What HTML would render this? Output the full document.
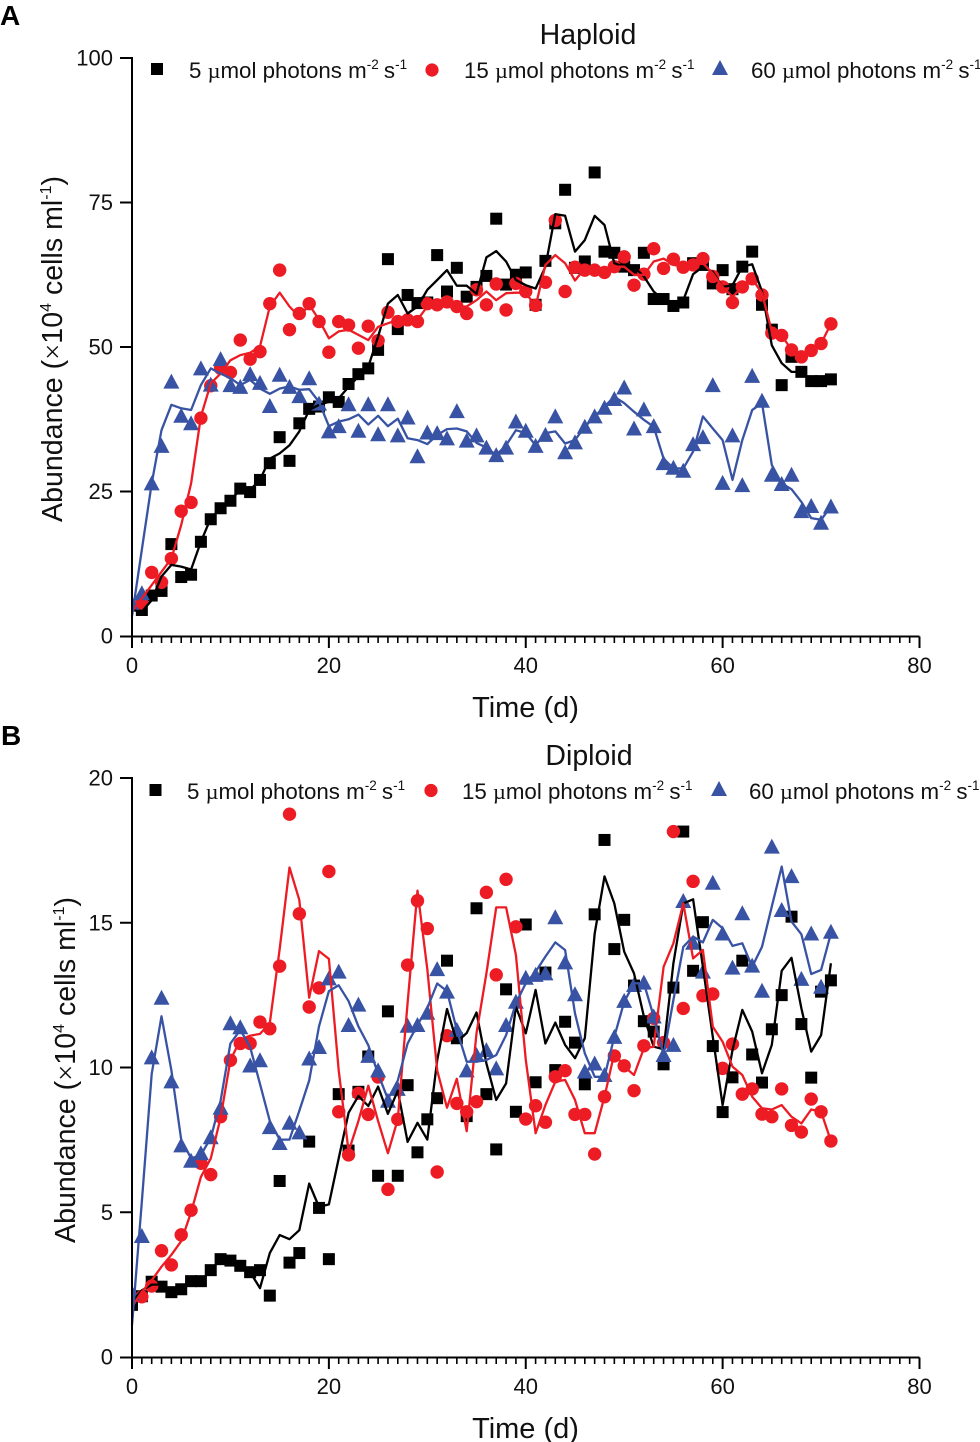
<!DOCTYPE html>
<html lang="en">
<head>
<meta charset="utf-8">
<title>Abundance over time: Haploid and Diploid</title>
<style>
html,body{margin:0;padding:0;background:#fff;}
svg{display:block;}
text{font-family:"Liberation Sans",sans-serif;fill:#111;}
.tick{font-size:22px;}
.legend{font-size:22.3px;}
.title{font-size:28.5px;}
.axis-title{font-size:29px;}
.y-title{font-size:28.6px;}
.mu{font-family:"Liberation Serif",serif;}
</style>
</head>
<body>
<svg id="chart" xmlns="http://www.w3.org/2000/svg" width="980" height="1442" viewBox="0 0 980 1442">
  <defs>
    <clipPath id="plot-clip"><rect x="132" y="0" width="848" height="1442"/></clipPath>
  </defs>
  <rect x="0" y="0" width="980" height="1442" fill="#fff"/>

  <g id="panel-a"></g>
  <g id="panel-b"></g>

  <text x="0" y="25" font-size="28" font-weight="700" style="font-weight:700;fill:#000">A</text>
  <text class="title" x="588" y="44" text-anchor="middle">Haploid</text>
  <text class="y-title" transform="translate(62,522) rotate(-90)">Abundance (<tspan class="mu">×</tspan>10<tspan dy="-11" font-size="16">4</tspan><tspan dy="11"> cells ml</tspan><tspan dy="-11" font-size="16">-1</tspan><tspan dy="11">)</tspan></text>
  <text class="axis-title" x="525.5" y="717" text-anchor="middle">Time (d)</text>
  <g>
    <rect x="151" y="63" width="12" height="12" fill="#000"/>
    <text class="legend" x="189" y="78">5 <tspan class="mu">µ</tspan>mol photons m<tspan dy="-9" font-size="13.5">-2</tspan><tspan dy="9" dx="-1"> s</tspan><tspan dy="-9" font-size="13.5">-1</tspan></text>
    <circle cx="432" cy="70" r="6.6" fill="#ed1c24"/>
    <text class="legend" x="464" y="78">15 <tspan class="mu">µ</tspan>mol photons m<tspan dy="-9" font-size="13.5">-2</tspan><tspan dy="9" dx="-1"> s</tspan><tspan dy="-9" font-size="13.5">-1</tspan></text>
    <path d="M720 60 L728 75 L712 75 Z" fill="#3953a4"/>
    <text class="legend" x="751" y="78">60 <tspan class="mu">µ</tspan>mol photons m<tspan dy="-9" font-size="13.5">-2</tspan><tspan dy="9" dx="-1"> s</tspan><tspan dy="-9" font-size="13.5">-1</tspan></text>
  </g>

  <text x="1" y="745" font-size="28" font-weight="700" style="font-weight:700;fill:#000">B</text>
  <text class="title" x="589" y="765" text-anchor="middle">Diploid</text>
  <text class="y-title" transform="translate(75,1243) rotate(-90)">Abundance (<tspan class="mu">×</tspan>10<tspan dy="-11" font-size="16">4</tspan><tspan dy="11"> cells ml</tspan><tspan dy="-11" font-size="16">-1</tspan><tspan dy="11">)</tspan></text>
  <text class="axis-title" x="525.5" y="1438" text-anchor="middle">Time (d)</text>
  <g>
    <rect x="149.5" y="784" width="12" height="12" fill="#000"/>
    <text class="legend" x="187" y="799">5 <tspan class="mu">µ</tspan>mol photons m<tspan dy="-9" font-size="13.5">-2</tspan><tspan dy="9" dx="-1"> s</tspan><tspan dy="-9" font-size="13.5">-1</tspan></text>
    <circle cx="431" cy="790.5" r="6.6" fill="#ed1c24"/>
    <text class="legend" x="462" y="799">15 <tspan class="mu">µ</tspan>mol photons m<tspan dy="-9" font-size="13.5">-2</tspan><tspan dy="9" dx="-1"> s</tspan><tspan dy="-9" font-size="13.5">-1</tspan></text>
    <path d="M719 781 L727 796 L711 796 Z" fill="#3953a4"/>
    <text class="legend" x="749" y="799">60 <tspan class="mu">µ</tspan>mol photons m<tspan dy="-9" font-size="13.5">-2</tspan><tspan dy="9" dx="-1"> s</tspan><tspan dy="-9" font-size="13.5">-1</tspan></text>
  </g>
</svg>

<script>
// Shared categories and tick labels
const days = [0,1,2,3,4,5,6,7,8,9,10,11,12,13,14,15,16,17,18,19,20,21,22,23,24,25,26,27,28,29,30,31,32,33,34,35,36,37,38,39,40,41,42,43,44,45,46,47,48,49,50,51,52,53,54,55,56,57,58,59,60,61,62,63,64,65,66,67,68,69,70,71];
const xTickLabels = [0,20,40,60,80];
const haploidYTicks = [0,25,50,75,100];
const diploidYTicks = [0,5,10,15,20];

// Haploid: observed points (one per day; null = no visible mark)
const haploidLowPoints = [null,4.5,7,7.8,15.9,10.2,10.6,16.3,20.2,22.1,23.4,25.5,24.9,27,29.9,34.4,30.3,36.8,39.3,39.7,41.3,40.5,43.6,45.3,46.3,49.5,65.2,53.1,59,57.6,57.7,65.9,59.6,63.7,58.7,60.4,62.3,72.2,60.8,62.5,62.9,57.3,64.9,71.4,77.2,63.7,64.8,80.2,66.5,66.3,63.9,63.3,66.3,58.3,58.3,57.1,57.7,64.5,64.2,61,63.3,60,63.9,66.5,57.3,53,43.4,48.3,45.7,44.1,44.1,44.4];
const haploidMidPoints = [null,5.7,11,9.3,13.4,21.6,23.1,37.7,43.3,46.3,45.6,51.2,47.9,49.2,57.5,63.3,53,55.8,57.5,54.4,49.1,54.4,53.8,49.8,53.6,51.1,56,54.4,54.7,54.4,57.5,57.3,57.8,57,55.8,59.9,57.3,60.9,56.4,61,59.6,57.2,61.2,71.9,59.6,63.8,63.3,63.3,62.9,63.9,65.6,60.7,62.6,67,63.6,65.2,63.8,64.2,65.3,62.2,60.4,57.7,60.4,61.8,59,52.4,52,49.5,48.3,49.4,50.6,54];
const haploidHighPoints = [5.5,7.4,26.4,32.9,44,38.1,36.8,46.3,43.5,47.9,43.4,43.1,45.3,43.8,39.8,45.2,43.1,41.5,44.6,40.2,35.4,36.3,40.1,35.5,40.1,34.9,40.1,34.7,37.8,31.1,35.2,35.1,34.2,38.9,33.8,34.7,32.6,31.3,32.6,37.1,35.5,32.9,34.8,38,31.8,33.5,36.2,38,39.5,41,43,35.9,39.2,36.3,29.9,29.1,28.6,33.2,34.4,43.4,26.5,34.7,26.1,45,40.7,27.9,26.3,27.9,21.6,22.5,19.6,22.4];

// Haploid: smoothed lines (one per day)
const haploidLowLine = [4.5,4.2,6.2,10.3,12.3,12,11.5,16.3,20.4,22.1,23.5,25.3,25.3,27,30.7,31.6,33,35.4,39.1,40,40.5,41.1,43.1,44.9,46.6,51.8,57.5,59,55.8,57,59.9,61.6,63.3,60.6,60.6,59.2,65.5,66.6,64.8,61.6,60.7,60.1,63.9,73,72.7,66.5,68.5,72.7,71.1,64.5,63.9,63.9,62.2,59.6,58.1,57.3,58.1,62.6,63.9,63,60.4,60.7,63.9,64.3,59.6,50.3,47.2,45.7,45.7];
const haploidMidLine = [4.2,6.5,8.8,11.1,13.4,19.2,26.4,38,43.7,45.4,47.7,48.6,49,50.1,57,59.4,57,55.2,57.3,54.7,51.5,52.7,53,52.1,51.2,53.5,54.1,54.7,54.7,54.7,57,57.3,57.8,57,57,58.1,59.6,58.1,59.3,59.4,59.4,57,64.2,65.9,64.5,61.5,63.6,63.3,63,63.9,63.9,62.5,62.5,64.8,65.3,64.2,63.9,64.2,64.5,62.7,60.4,58.7,60.4,61.8,59.3,52.7,52,49.5,48.3,49.4,50.6,54];
const haploidHighLine = [3.4,14.9,26.4,35.6,40,39.4,39.1,43.4,46.3,45.4,44.6,43.4,44.3,42.8,41.9,42.8,43.2,42.6,42.7,40.5,36.3,37.1,37.5,38.3,36.6,38.1,36.3,37.6,34.2,33.9,33.2,34.8,35.8,35.9,35.4,33.4,32.6,31.3,33,35.6,35.1,33,35.1,35.4,33.3,33.9,36.2,38,39.7,41.4,40.3,38.8,37.4,36.2,30.7,29,29,31.9,38,35.9,33.9,27,33.9,39.1,40.3,29.6,26.4,25.4,23.2,20.4,20.1,22.4];

// Diploid: observed points (one per day; null = no visible mark)
const diploidLowPoints = [1.8,2.1,2.6,2.43,2.24,2.34,2.62,2.62,3,3.38,3.33,3.15,2.93,3,2.12,6.08,3.26,3.59,7.44,5.15,3.38,9.08,7.13,9.16,10.38,6.26,11.94,6.26,9.39,7.07,8.21,8.94,13.69,11.01,8.32,15.5,9.08,7.17,12.7,8.47,14.94,9.49,13.28,9.91,11.58,10.86,9.42,15.29,17.86,14.09,15.1,12.83,11.6,11.24,10.11,12.76,18.15,13.34,15.02,10.74,8.46,9.66,13.69,10.45,9.48,11.32,12.5,15.21,11.5,9.65,12.62,13.01];
const diploidMidPoints = [null,2.08,2.45,3.67,3.18,4.22,5.07,6.69,6.3,8.3,10.25,10.83,10.83,11.57,11.34,13.5,18.75,15.31,12.09,12.75,16.77,8.47,6.98,9.11,8.38,9.67,5.79,8.21,13.54,15.76,14.8,6.39,11.1,8.76,8.47,8.82,16.05,13.2,16.5,14.86,8.22,8.68,8.11,9.68,9.89,8.38,8.38,7.01,8.99,10.4,10.06,9.2,10.75,11.7,10.86,18.15,12.04,16.43,12.48,12.54,9.97,10.81,9.08,9.26,8.39,8.3,9.26,8,7.77,8.91,8.47,7.46];
const diploidHighPoints = [2.2,4.18,10.35,12.41,9.52,7.31,6.78,7.04,7.59,8.61,11.53,11.39,10.07,10.25,7.94,7.39,8.09,7.76,10.31,10.71,13.08,13.31,11.47,12.17,10.4,9.9,8.85,9.26,11.44,11.47,11.89,13.4,12.62,11.3,9.9,10.43,10.6,9.97,11.47,12.27,13.1,13.2,13.25,15.19,13.63,12.53,9.86,10.14,9.74,11.06,12.3,12.85,12.93,11.76,10.43,10.78,15.75,14.31,13.31,16.38,14.63,13.45,15.33,13.52,12.65,17.63,15.44,16.61,13.06,14.63,12.79,14.69];

// Diploid: smoothed lines (one per day)
const diploidLowLine = [1.9,2.3,2.5,2.5,2.24,2.34,2.62,2.62,3,3.38,3.33,3.15,2.93,2.38,3.59,4.21,4.07,4.38,5.99,5.18,5.27,6.86,8.44,9.02,8.67,9.34,8.4,9.2,7.43,8.09,7.51,10.25,12.02,10.88,11.19,11.9,10.14,8.88,9.45,12.1,11.18,12.68,10.83,11.55,10.78,10.32,11.01,14.63,16.6,15.67,14,13.25,11.76,10.72,10.63,13.6,15.67,15.81,13.48,11.06,8.7,10.6,11.99,11.24,9.8,10.78,13.34,13.79,12.04,10.55,11.12,13.6];
const diploidMidLine = [1.73,2.25,2.65,3.12,3.53,4,5,6.22,6.86,8.27,10.25,10.96,11.1,11.16,11.53,14.1,16.91,15.79,12.41,14.02,13.75,9.9,7.1,8.15,9.37,8.15,7.04,8.21,12.23,16.11,13.4,9.9,8.61,9.61,7.8,11.18,13.25,15.53,15.53,13.89,10.26,7.73,8.7,9.51,9.57,8.88,7.73,7.73,8.99,10.49,10.03,9.74,10.66,10.72,13.48,14.29,15.67,13.77,14.06,11.41,10.89,10.03,9.74,8.99,8.59,8.55,8.7,8.3,8.07,8.55,8.47,7.46];
const diploidHighLine = [1.1,5.35,9.78,11.77,9.9,7.51,6.86,6.98,7.57,8.85,10.83,11.3,10.71,9.43,8.15,7.51,7.51,8.5,9.55,11.42,12.64,12.84,12.29,11.42,10.77,9.78,8.91,9.55,10.83,11.47,12.06,12.9,12.64,11.3,10.2,10.2,10.26,10.43,11.12,12.22,12.91,13.31,13.83,14.32,14.06,11.87,10.49,9.68,9.68,11.06,12.27,12.91,12.91,11.76,10.43,12.33,14.17,14.52,14.32,15.1,14.81,14.2,14.29,13.48,14.17,15.56,16.94,15.04,14.6,13.23,13.37,14.63];

const SVGNS = 'http://www.w3.org/2000/svg';
const BLACK = '#000000';
const RED = '#ed1c24';
const BLUE = '#3953a4';

function shape(parent, tag, attrs) {
  const el = document.createElementNS(SVGNS, tag);
  Object.keys(attrs).forEach(function (k) { el.setAttribute(k, attrs[k]); });
  parent.appendChild(el);
  return el;
}

function drawPanel(parent, cfg) {
  const xMin = 0, xMax = 80;
  const x0 = 132, x1 = 919.5;
  const xScale = function (d) { return x0 + (d - xMin) * (x1 - x0) / (xMax - xMin); };
  const yScale = function (v) { return cfg.yBottom + (v - cfg.ticks[0]) * (cfg.yTop - cfg.yBottom) / (cfg.ticks[cfg.ticks.length - 1] - cfg.ticks[0]); };

  const lowMarks = shape(parent, 'g', { fill: BLACK, 'clip-path': 'url(#plot-clip)' });
  
  
  cfg.lowPoints.forEach(function (v, i) {
    if (v === null) return;
    const p = shape(lowMarks, 'rect', { x: xScale(days[i]) - 6, y: yScale(v) - 6, width: 12, height: 12 });
    
    
  });

  const midMarks = shape(parent, 'g', { fill: RED, 'clip-path': 'url(#plot-clip)' });
  
  
  cfg.midPoints.forEach(function (v, i) {
    if (v === null) return;
    const p = shape(midMarks, 'circle', { cx: xScale(days[i]), cy: yScale(v), r: 6.7 });
    
    
  });

  const highMarks = shape(parent, 'g', { fill: BLUE, 'clip-path': 'url(#plot-clip)' });
  
  
  cfg.highPoints.forEach(function (v, i) {
    if (v === null) return;
    const cx = xScale(days[i]), cy = yScale(v);
    const p = shape(highMarks, 'path', { d: 'M' + cx + ' ' + (cy - 8) + ' L' + (cx + 8) + ' ' + (cy + 7) + ' L' + (cx - 8) + ' ' + (cy + 7) + ' Z' });
    
    
  });

  function linePath(values) {
    return values.map(function (v, i) { return xScale(days[i]).toFixed(1) + ',' + yScale(v).toFixed(1); }).join(' ');
  }
  const l1 = shape(parent, 'polyline', { points: linePath(cfg.lowLine), fill: 'none', stroke: BLACK, 'stroke-width': 2.3, 'stroke-linejoin': 'round' });
  
  
  const l2 = shape(parent, 'polyline', { points: linePath(cfg.midLine), fill: 'none', stroke: RED, 'stroke-width': 2.3, 'stroke-linejoin': 'round' });
  
  
  const l3 = shape(parent, 'polyline', { points: linePath(cfg.highLine), fill: 'none', stroke: BLUE, 'stroke-width': 2.3, 'stroke-linejoin': 'round' });
  
  

  const axes = shape(parent, 'g', {});
  
  

  const xAxis = shape(axes, 'line', { x1: x0 - 12, x2: x1, y1: cfg.yBottom + 0.5, y2: cfg.yBottom + 0.5, stroke: '#000', 'stroke-width': 2 });
  
  
  const yAxis = shape(axes, 'line', { x1: x0, x2: x0, y1: cfg.yTop - 1, y2: cfg.yBottom + 12, stroke: '#000', 'stroke-width': 2 });
  
  

  for (let d = xMin; d <= xMax; d++) {
    const major = xTickLabels.indexOf(d) >= 0;
    const t = shape(axes, 'line', { x1: xScale(d), x2: xScale(d), y1: cfg.yBottom + 0.5, y2: cfg.yBottom + (major ? 12 : 7), stroke: '#000', 'stroke-width': major ? 2 : 1.6 });
    
    
  }
  xTickLabels.forEach(function (lab) {
    const t = shape(axes, 'text', { x: xScale(lab), y: cfg.yBottom + 37, 'text-anchor': 'middle', 'class': 'tick' });
    t.textContent = lab;
    
    
  });
  cfg.ticks.forEach(function (lab) {
    const yy = yScale(lab);
    const m = shape(axes, 'line', { x1: x0 - 12, x2: x0, y1: yy + (lab === cfg.ticks[0] ? 0.5 : 0), y2: yy + (lab === cfg.ticks[0] ? 0.5 : 0), stroke: '#000', 'stroke-width': 2 });
    
    
    const t = shape(axes, 'text', { x: x0 - 19, y: yy + 7.5, 'text-anchor': 'end', 'class': 'tick' });
    t.textContent = lab;
    
    
  });
}

drawPanel(document.getElementById('panel-a'), {
  yTop: 58, yBottom: 636, ticks: haploidYTicks,
  lowPoints: haploidLowPoints, midPoints: haploidMidPoints, highPoints: haploidHighPoints,
  lowLine: haploidLowLine, midLine: haploidMidLine, highLine: haploidHighLine
});
drawPanel(document.getElementById('panel-b'), {
  yTop: 778, yBottom: 1357, ticks: diploidYTicks,
  lowPoints: diploidLowPoints, midPoints: diploidMidPoints, highPoints: diploidHighPoints,
  lowLine: diploidLowLine, midLine: diploidMidLine, highLine: diploidHighLine
});
</script>
</body>
</html>
